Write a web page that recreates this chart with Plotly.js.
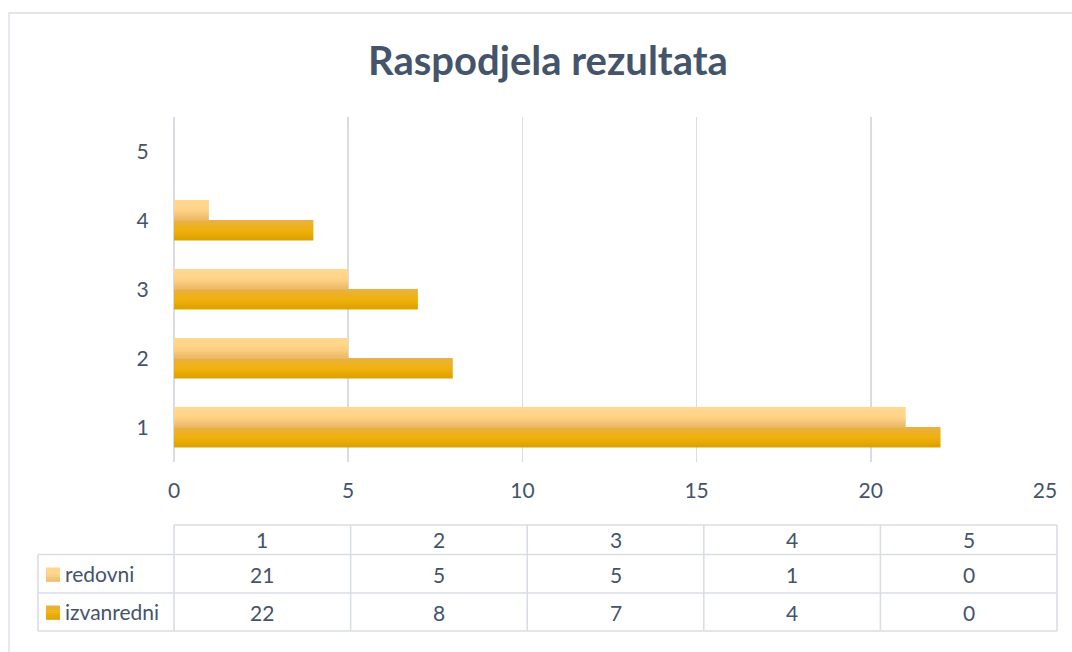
<!DOCTYPE html>
<html>
<head>
<meta charset="utf-8">
<script src="https://cdn.plot.ly/plotly-3.0.1.min.js"></script>
<style>html,body{margin:0;padding:0;background:#fff;}#chart{width:1072px;height:652px;}</style>
</head>
<body>
<div id="chart"></div>
<script>
// ---- data ----
const categories = [1, 2, 3, 4, 5];
const seriesNames = ['redovni', 'izvanredni'];
const redovni = [21, 5, 5, 1, 0];
const izvanredni = [22, 8, 7, 4, 0];
const xTicks = [0, 5, 10, 15, 20, 25];

// ---- layout constants ----
const W = 1072, H = 652;
const L = 174, R = 1045, T = 117, B = 462;
const px = x => (x - L) / (R - L);
const py = y => (B - y) / (B - T);
const textColor = '#44546A';
const gridColor = '#D9DDE3';
const fontFam = 'Lato, "Noto Sans", sans-serif';

function lerp(a, b, t) { return Math.round(a + (b - a) * t); }
function mix(c1, c2, t) {
  return 'rgb(' + lerp(c1[0], c2[0], t) + ',' + lerp(c1[1], c2[1], t) + ',' + lerp(c1[2], c2[2], t) + ')';
}
// gradient stops (top -> bottom)
const gradR = [[255, 217, 145], [255, 211, 135], [234, 184, 104]];
const gradI = [[233, 176, 70], [240, 178, 12], [222, 160, 0]];
function gradColor(g, t) {
  return t < 0.5 ? mix(g[0], g[1], t * 2) : mix(g[1], g[2], (t - 0.5) * 2);
}

const barW = 0.29;
const N = 10;
const traces = [];
function addSeries(vals, grad, top) {
  for (let k = 0; k < N; k++) {
    const t = (k + 0.5) / N; // 0=top,1=bottom
    const off = top ? barW * (1 - (k + 1) / N) : -barW * ((k + 1) / N);
    traces.push({
      type: 'bar', orientation: 'h',
      y: categories, x: vals,
      offset: off, width: barW / N + 0.006,
      marker: { color: gradColor(grad, t), line: { width: 0 } },
      hoverinfo: 'skip', showlegend: false
    });
  }
}
addSeries(izvanredni, gradI, false);
addSeries(redovni, gradR, true);

// ---- table ----
const colEdges = [];
for (let i = 0; i <= categories.length; i++) colEdges.push(174 + i * (1057 - 174) / categories.length);
const rowEdges = [525, 554.5, 593, 631];
const tblColor = '#D9DEE5';
const shapes = [];
const annotations = [];
function line(x0, y0, x1, y1, c, w) {
  shapes.push({ type: 'line', xref: 'paper', yref: 'paper', x0: px(x0), y0: py(y0), x1: px(x1), y1: py(y1), line: { color: c || tblColor, width: w || 1.6 } });
}
// outer frame
shapes.push({ type: 'rect', xref: 'paper', yref: 'paper', x0: px(9), y0: py(13), x1: px(1090), y1: py(680), line: { color: '#D9DEE5', width: 1.3 }, fillcolor: 'rgba(0,0,0,0)', layer: 'below' });
line(174, rowEdges[0], 1057, rowEdges[0]);
line(38, rowEdges[1], 1057, rowEdges[1]);
line(38, rowEdges[2], 1057, rowEdges[2]);
line(38, rowEdges[3], 1057, rowEdges[3]);
line(38, rowEdges[1], 38, rowEdges[3]);
colEdges.forEach(x => line(x, rowEdges[0], x, rowEdges[3]));

const tfont = { family: fontFam, size: 21, color: textColor };
function txt(x, y, s, anchor) {
  annotations.push({ xref: 'paper', yref: 'paper', x: px(x), y: py(y), text: s, showarrow: false, xanchor: anchor || 'center', yanchor: 'middle', font: tfont });
}
categories.forEach((c, i) => {
  const cx = (colEdges[i] + colEdges[i + 1]) / 2;
  txt(cx, 539, String(c));
  txt(cx, 574, String(redovni[i]));
  txt(cx, 612, String(izvanredni[i]));
});
txt(63, 573, seriesNames[0], 'left');
txt(63, 611, seriesNames[1], 'left');
function swatch(yc, grad) {
  const n = 6, s = 14, y0 = yc - s / 2;
  for (let k = 0; k < n; k++) {
    shapes.push({ type: 'rect', xref: 'paper', yref: 'paper', x0: px(46), x1: px(46 + s), y0: py(y0 + k * s / n), y1: py(y0 + (k + 1) * s / n + 0.3), line: { width: 0 }, fillcolor: gradColor(grad, (k + 0.5) / n) });
  }
}
swatch(574.5, gradR);
swatch(612.5, gradI);

const layout = {
  width: W, height: H,
  margin: { l: L, r: W - R, t: T, b: H - B, pad: 0 },
  paper_bgcolor: '#ffffff', plot_bgcolor: '#ffffff',
  barmode: 'overlay',
  title: { text: 'Raspodjela rezultata', x: 548 / W, xref: 'container', xanchor: 'center', y: 1 - 61 / H, yref: 'container', yanchor: 'middle', font: { family: fontFam, size: 40, color: textColor, weight: 'bold' } },
  xaxis: {
    range: [0, 25], tickvals: xTicks, ticktext: xTicks.map(String),
    showgrid: true, gridcolor: gridColor, gridwidth: 1.5, zeroline: true, zerolinecolor: gridColor, zerolinewidth: 1.5,
    showline: false, ticks: 'outside', ticklen: 10, tickcolor: 'rgba(0,0,0,0)',
    tickfont: { family: fontFam, size: 21, color: textColor }, fixedrange: true
  },
  yaxis: {
    range: [0.5, 5.5], tickvals: categories, ticktext: categories.map(String),
    showgrid: false, zeroline: false, showline: false,
    ticks: 'outside', ticklen: 20, tickcolor: 'rgba(0,0,0,0)',
    tickfont: { family: fontFam, size: 21, color: textColor }, fixedrange: true
  },
  shapes: shapes, annotations: annotations,
  showlegend: false
};
Plotly.newPlot('chart', traces, layout, { displayModeBar: false, staticPlot: true });
</script>
</body>
</html>
